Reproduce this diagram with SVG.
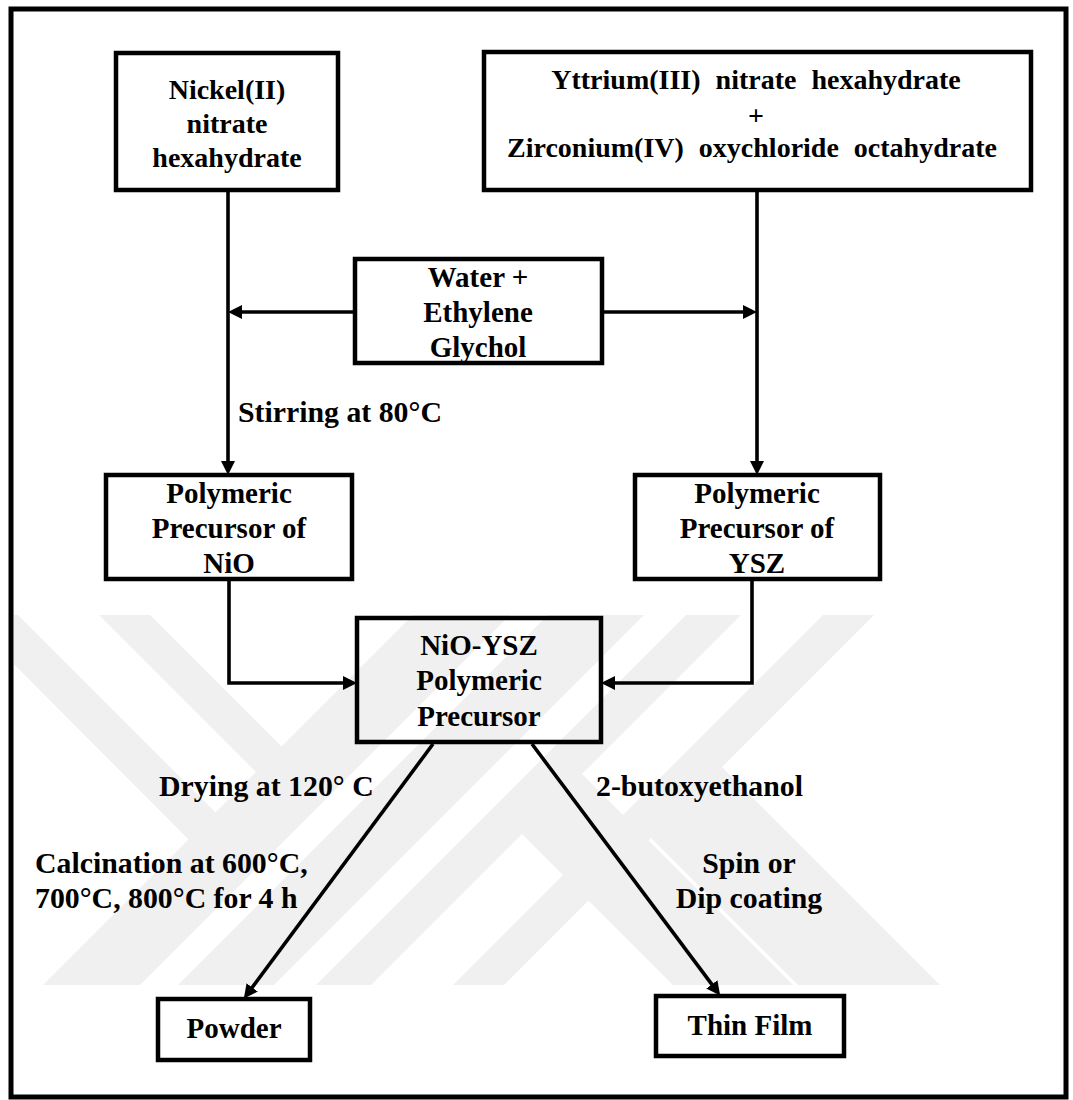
<svg xmlns="http://www.w3.org/2000/svg" width="1073" height="1100" viewBox="0 0 1073 1100">
  <defs>
    <style>
      .box { fill: none; stroke: #000; stroke-width: 4.5; }
      .frame { fill: none; stroke: #000; stroke-width: 5; }
      .wire { fill: none; stroke: #000; stroke-width: 3.6; marker-end: url(#ah); }
      text { font-family: 'Liberation Serif', 'Times New Roman', Times, serif; font-weight: 700; font-size: 29px; fill: #000; }
      .m { text-anchor: middle; }
      .top { font-size: 28px; }
      .lbl { font-size: 29.8px; }
      .wide { word-spacing: 8px; }
      .mark { fill: #f0f0f0; }
    </style>
    <marker id="ah" viewBox="0 0 14 14" refX="6" refY="7" markerWidth="14" markerHeight="14" markerUnits="userSpaceOnUse" orient="auto">
      <path d="M0,0 L14,7 L0,14 z" fill="#000"/>
    </marker>
    <clipPath id="markClip">
      <rect x="14" y="615" width="1050" height="370"/>
    </clipPath>
  </defs>

  <rect x="0" y="0" width="1073" height="1100" fill="#fff"/>

  <!-- faint background emblem: diagonal bands -->
  <g id="emblem" clip-path="url(#markClip)">
    <polygon class="mark" points="-35,615 18,615 218,815 191,842"/>
    <polygon class="mark" points="99,615 150,615 284,749 259,775"/>
    <polygon class="mark" points="413,615 510,615 140,985 43,985"/>
    <polygon class="mark" points="548,615 644,615 274,985 178,985"/>
    <polygon class="mark" points="686,615 741,615 371,985 316,985"/>
    <polygon class="mark" points="823,615 874,615 504,985 453,985"/>
    <polygon class="mark" points="582,774 793,985 673,985 522,834"/>
    <polygon class="mark" points="722,767 940,985 798,985 651,838"/>
  </g>

  <rect class="frame" x="11" y="9" width="1055" height="1088"/>

  <g id="connectors">
    <path class="wire" d="M228,192 V467"/>
    <path class="wire" d="M757,192 V467"/>
    <path class="wire" d="M355,312 H236"/>
    <path class="wire" d="M602,312 H749"/>
    <path class="wire" d="M229,579 V683 H349"/>
    <path class="wire" d="M752,579 V683 H609"/>
    <path class="wire" d="M433,744 L248.6,992.2"/>
    <path class="wire" d="M532,744 L715.4,989.2"/>
  </g>

  <g id="nickel">
    <rect class="box" x="116" y="53" width="222" height="137"/>
    <text class="top m" x="227" y="99">Nickel(II)</text>
    <text class="top m" x="227" y="133">nitrate</text>
    <text class="top m" x="227" y="167">hexahydrate</text>
  </g>

  <g id="yttrium-zirconium">
    <rect class="box" x="484" y="52" width="547" height="138"/>
    <text class="top m wide" x="756" y="89">Yttrium(III) nitrate hexahydrate</text>
    <text class="top m" x="756" y="125">+</text>
    <text class="top m wide" x="752" y="157">Zirconium(IV) oxychloride octahydrate</text>
  </g>

  <g id="solvent">
    <rect class="box" x="355" y="259" width="247" height="104"/>
    <text class="m" x="478" y="287">Water +</text>
    <text class="m" x="478" y="322">Ethylene</text>
    <text class="m" x="478" y="357">Glychol</text>
  </g>

  <g id="label-stirring">
    <text class="lbl" x="238" y="422">Stirring at 80°C</text>
  </g>

  <g id="precursor-nio">
    <rect class="box" x="106" y="475" width="246" height="104"/>
    <text class="m" x="229" y="503">Polymeric</text>
    <text class="m" x="229" y="538">Precursor of</text>
    <text class="m" x="229" y="573">NiO</text>
  </g>

  <g id="precursor-ysz">
    <rect class="box" x="635" y="475" width="245" height="104"/>
    <text class="m" x="757" y="503">Polymeric</text>
    <text class="m" x="757" y="538">Precursor of</text>
    <text class="m" x="757" y="573">YSZ</text>
  </g>

  <g id="precursor-nio-ysz">
    <rect class="box" x="357" y="618" width="244" height="124"/>
    <text class="m" x="479" y="655">NiO-YSZ</text>
    <text class="m" x="479" y="690">Polymeric</text>
    <text class="m" x="479" y="726">Precursor</text>
  </g>

  <g id="step-labels">
    <text class="lbl" x="159" y="796">Drying at 120° C</text>
    <text class="lbl" x="596" y="796">2-butoxyethanol</text>
    <text class="lbl" x="35" y="873">Calcination at 600°C,</text>
    <text class="lbl" x="35" y="908">700°C, 800°C for 4 h</text>
    <text class="lbl m" x="749" y="873">Spin or</text>
    <text class="lbl m" x="749" y="908">Dip coating</text>
  </g>

  <g id="powder">
    <rect class="box" x="158" y="999" width="152" height="61"/>
    <text class="m" x="234" y="1038">Powder</text>
  </g>

  <g id="thin-film">
    <rect class="box" x="656" y="996" width="188" height="60"/>
    <text class="m" x="750" y="1035">Thin Film</text>
  </g>
</svg>
